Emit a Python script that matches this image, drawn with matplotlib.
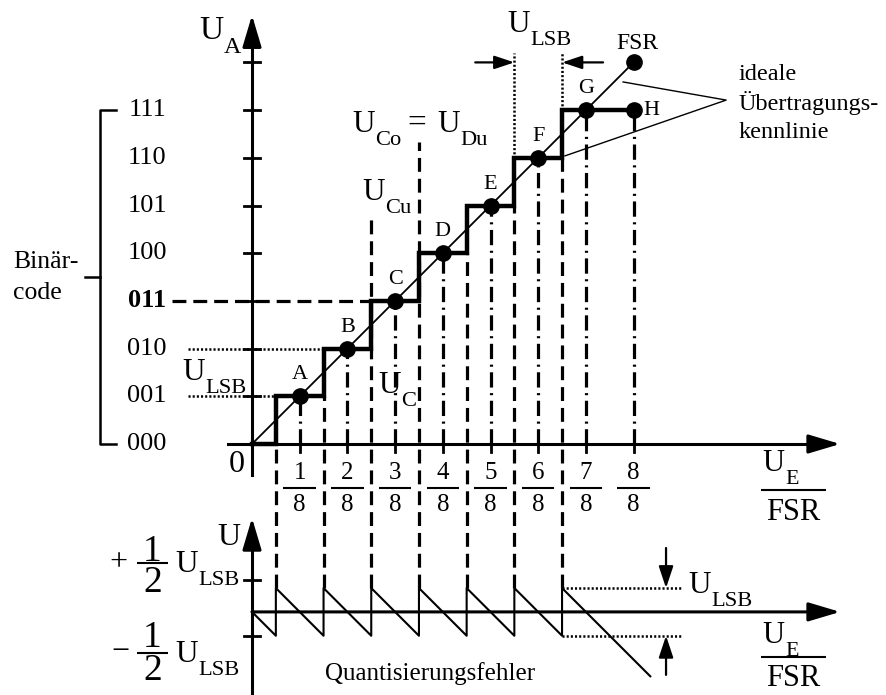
import numpy as np
import matplotlib
matplotlib.use('Agg')
from matplotlib import pyplot as plt

plt.rcParams['font.family'] = ['Liberation Serif', 'DejaVu Serif']
plt.rcParams['lines.scale_dashes'] = False

# data (x and y in LSB units)
codes = ['000', '001', '010', '011', '100', '101', '110', '111']
levels = np.arange(8)
thresholds = np.array([0.5, 1.5, 2.5, 3.5, 4.5, 5.5, 6.5])
point_names = ['A', 'B', 'C', 'D', 'E', 'F', 'G', 'H']
point_x = np.array([1, 2, 3, 4, 5, 6, 7, 8])
point_y = np.array([1, 2, 3, 4, 5, 6, 7, 7])
fsr_x, fsr_y = 8, 8
frac_nums = ['1', '2', '3', '4', '5', '6', '7', '8']
frac_den = '8'
err_end = 8.35
# where the dashed threshold lines start at the top
dash_top = [0, 1, 4.84, 6.33, 4, 5, 6]

PX = 47.7            # pixels per LSB
ERR0 = -3.52         # zero line of the error plot

DASH = (10, 5)
DASHDOT = (11, 4, 1.5, 4)
DOT = (1.5, 1.5)

fig = plt.figure(figsize=(8.86, 6.95), dpi=100)
ax = fig.add_axes([0, 0, 1, 1])
ax.set_xlim(-252 / PX, (886 - 252) / PX)
ax.set_ylim(-(695 - 444) / PX, 444 / PX)
ax.axis('off')


def arrow(x0, y0, x1, y1, lw=2.2, hl=0.57, hw=0.17, ms=34):
    ax.annotate('', xy=(x1, y1), xytext=(x0, y0),
                arrowprops=dict(arrowstyle='-|>,head_length=%s,head_width=%s' % (hl, hw),
                                mutation_scale=ms, lw=lw, color='k',
                                shrinkA=0, shrinkB=0))


def usub(x, y, sub, fs):
    ax.text(x, y, 'U', fontsize=fs, ha='left', va='baseline')
    ax.annotate(sub, (x, y), xytext=(0.74 * fs, -0.42 * fs), textcoords='offset points',
                fontsize=0.72 * fs, ha='left', va='baseline')


def frac(x, yn, yb, yd, num, den, hw, fs, lw=1.5):
    ax.text(x, yn, num, fontsize=fs, ha='center', va='center')
    ax.plot([x - hw, x + hw], [yb, yb], color='k', lw=lw, solid_capstyle='butt')
    ax.text(x, yd, den, fontsize=fs, ha='center', va='center')


# ---- upper diagram: axes
ax.plot([0, 0], [-0.65, 8.5], color='k', lw=2.2)
arrow(0, 8.4, 0, 8.99)
ax.plot([-0.5, 11.8], [0, 0], color='k', lw=2.2)
arrow(11.7, 0, 12.33, 0)
for v in range(1, 9):
    ax.plot([-0.16, 0.16], [v, v], color='k', lw=2)
    ax.plot([v, v], [-0.17, 0.16], color='k', lw=2)

# threshold lines (dashed) reaching down to the error plot
for t, top in zip(thresholds, dash_top):
    ax.plot([t, t], [ERR0 + 0.5, top], color='k', lw=2.3, dashes=DASH)
for t in thresholds[5:]:
    ax.plot([t, t], [t + 0.5, 8.2], color='k', lw=1.8, dashes=DOT)

# dash-dot lines from the code centres
for x, y in zip(point_x, point_y):
    ax.plot([x, x], [0, y], color='k', lw=2.3, dashes=DASHDOT)

# ideal line and staircase
ax.plot([0, fsr_x], [0, fsr_y], color='k', lw=1.3)
stair_x = np.concatenate([[0], np.repeat(thresholds, 2), [point_x[-1]]])
stair_y = np.repeat(levels, 2)
ax.plot(stair_x, stair_y, color='k', lw=3.2, solid_joinstyle='miter')
ax.plot(point_x, point_y, 'o', color='k', ms=11)
ax.plot([fsr_x], [fsr_y], 'o', color='k', ms=11)
for n, x, y in zip(point_names[:-1], point_x[:-1], point_y[:-1]):
    ax.text(x, y + 0.45, n, fontsize=16, ha='center', va='center')
ax.text(point_x[-1] + 0.2, point_y[-1], point_names[-1], fontsize=16, ha='left', va='center')
ax.text(fsr_x + 0.08, fsr_y + 0.4, 'FSR', fontsize=17, ha='center', va='center')

# code labels and bracket
for c, v in zip(codes, levels):
    ax.text(-2.2, v, c, fontsize=19, ha='center', va='center',
            fontweight='bold' if c == '011' else 'normal')
ax.plot([-2.85, -3.19, -3.19, -2.85], [7, 7, 0, 0], color='k', lw=1.8)
ax.plot([-3.5, -3.19], [3.5, 3.5], color='k', lw=1.8)
ax.text(-5.01, 3.82, 'Binär-', fontsize=18.5, ha='left', va='center')
ax.text(-5.01, 3.17, 'code', fontsize=18.5, ha='left', va='center')

# helper lines to the codes
ax.plot([-1.68, thresholds[2]], [3, 3], color='k', lw=2.3, dashes=DASH)
ax.plot([-1.34, thresholds[1]], [2, 2], color='k', lw=1.8, dashes=DOT)
ax.plot([-1.34, thresholds[0]], [1, 1], color='k', lw=1.8, dashes=DOT)

# x tick fractions
for x, n in zip(point_x, frac_nums):
    frac(x, -0.61, -0.92, -1.28, n, frac_den, 0.34, 18)
ax.text(-0.31, -0.42, '0', fontsize=23, ha='center', va='center')

# axis labels
usub(-1.11, 8.49, 'A', 24)
frac(11.35, -0.36, -0.96, -1.43, '', 'FSR', 0.68, 22)
usub(10.70, -0.57, 'E', 22)

# voltage labels
usub(-1.47, 1.34, 'LSB', 22.5)
usub(2.64, 1.07, 'C', 22.5)
usub(2.31, 5.12, 'Cu', 22.5)
usub(2.10, 6.54, 'Co', 22.5)
ax.text(3.46, 6.54, '=', fontsize=24, ha='center', va='baseline')
usub(3.88, 6.54, 'Du', 22.5)
usub(5.35, 8.64, 'LSB', 22.5)
arrow(4.68, 8.0, thresholds[5], 8.0, lw=1.6, hl=0.6, hw=0.2, ms=20)
arrow(7.36, 8.0, thresholds[6], 8.0, lw=1.6, hl=0.6, hw=0.2, ms=20)

# ideal transfer characteristic annotation
ax.text(10.19, 7.63, 'ideale', fontsize=17.5, ha='left', va='baseline')
ax.text(10.19, 7.0, 'Übertragungs-', fontsize=17.5, ha='left', va='baseline')
ax.text(10.19, 6.41, 'kennlinie', fontsize=17.5, ha='left', va='baseline')
ax.plot([7.78, 9.94, 6.56], [7.59, 7.21, 6.04], color='k', lw=1)

# ---- lower diagram: quantisation error
ax.plot([0, 0], [-5.4, -2.1], color='k', lw=2.2)
arrow(0, -2.2, 0, -1.55)
arrow(0, ERR0, 12.33, ERR0)
for v in (-2.85, -4.02):
    ax.plot([-0.16, 0.16], [v, v], color='k', lw=2)

seg_start = np.concatenate([[0], thresholds])
seg_end = np.concatenate([thresholds, [err_end]])
err_x = np.ravel(np.column_stack([seg_start, seg_end]))
err_y = np.ravel(np.column_stack([levels - seg_start, levels - seg_end])) + ERR0
ax.plot(err_x, err_y, color='k', lw=1.5)

for e in (0.5, -0.5):
    ax.plot([thresholds[-1], 9.01], [ERR0 + e, ERR0 + e], color='k', lw=1.8, dashes=DOT)
arrow(8.68, -2.18, 8.68, ERR0 + 0.5, lw=1.6, hl=0.6, hw=0.2, ms=22)
arrow(8.68, -4.84, 8.68, ERR0 - 0.5, lw=1.6, hl=0.6, hw=0.2, ms=22)
usub(9.14, -3.12, 'LSB', 22.5)

ax.text(-0.73, -2.12, 'U', fontsize=23, ha='left', va='baseline')
ax.text(-2.79, -2.50, '+', fontsize=23, ha='center', va='center')
frac(-2.09, -2.26, -2.50, -2.91, '1', '2', 0.33, 27)
usub(-1.61, -2.68, 'LSB', 22.5)
ax.text(-2.75, -4.38, '\u2212', fontsize=23, ha='center', va='center')
frac(-2.09, -4.07, -4.38, -4.76, '1', '2', 0.33, 27)
usub(-1.61, -4.57, 'LSB', 22.5)

frac(11.35, -4.0, -4.47, -4.91, '', 'FSR', 0.68, 22)
usub(10.70, -4.17, 'E', 22)
ax.text(3.73, -4.95, 'Quantisierungsfehler', fontsize=18, ha='center', va='baseline')

fig.savefig('out.png', dpi=100)
